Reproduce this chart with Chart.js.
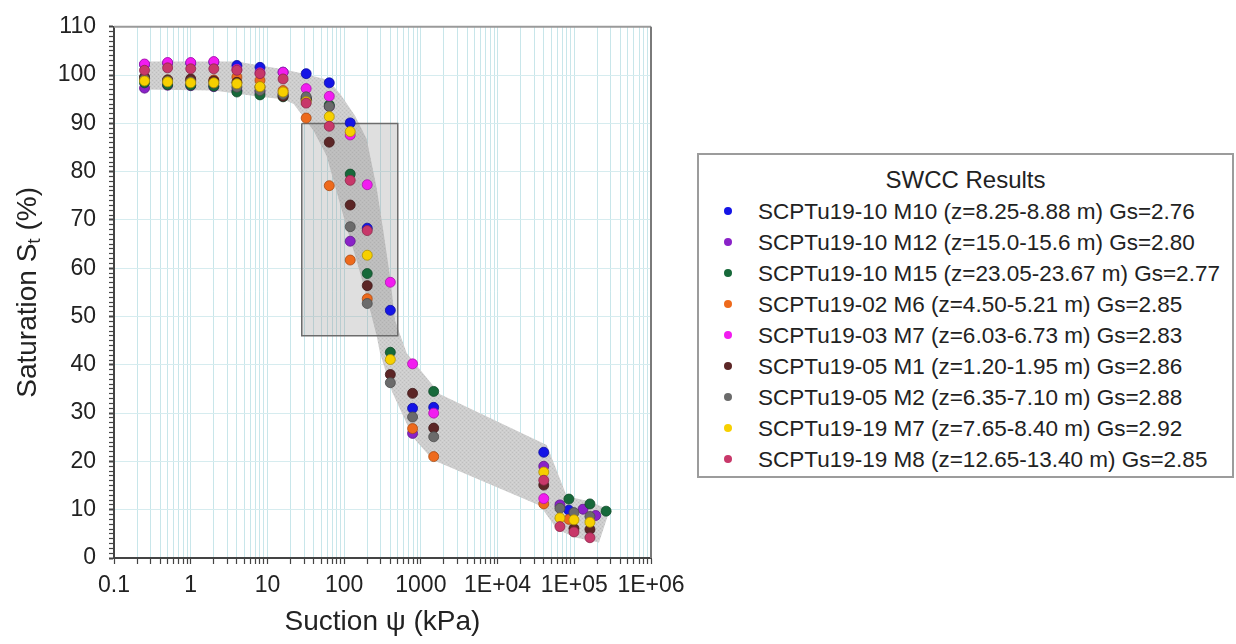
<!DOCTYPE html>
<html>
<head>
<meta charset="utf-8">
<title>SWCC Results</title>
<script src="https://cdn.jsdelivr.net/npm/chart.js@4.4.1/dist/chart.umd.min.js"></script>
<style>
  body { margin: 0; background: #fff; }
  #wrap { position: relative; width: 1236px; height: 644px; }
  #swccChart { position: absolute; left: 0; top: 0; }
  #legend {
    position: absolute; left: 697px; top: 153px; width: 533px; height: 321px;
    border: 2px solid #9c9c9c; background: #fff;
    font-family: "Liberation Sans", Arial, sans-serif; color: #222;
  }
  #legend .title { padding-top: 8px; height: 33px; line-height: 33px; text-align: center; font-size: 24px; }
  #legend .row { height: 31px; line-height: 31px; font-size: 22.5px; white-space: nowrap; }
  #legend .dot { display: inline-block; width: 8px; height: 8px; border-radius: 50%; margin: 0 26px 0 25px; vertical-align: middle; position: relative; top: -2px; }
</style>
</head>
<body>
<div id="wrap">
  <canvas id="swccChart" width="1236" height="644"></canvas>
  <div id="legend"></div>
</div>
<script>
// suction (kPa) and saturation (%) per specimen
const m10Suction = [0.25, 0.5, 1, 2, 4, 8, 16, 32, 64, 120, 200, 400, 780, 1470, 40000, 85000];
const m10Sat = [102.2, 102.5, 102.5, 102.7, 102.0, 101.6, 100.6, 100.3, 98.4, 90.1, 68.3, 51.3, 31.0, 31.2, 21.9, 9.9];

const m12Suction = [0.25, 0.5, 1, 2, 4, 8, 16, 32, 64, 120, 780, 40000, 65000, 130000, 190000];
const m12Sat = [97.3, 97.9, 97.8, 97.6, 96.8, 96.5, 96.0, 95.0, 93.5, 65.6, 25.8, 19.0, 11.0, 10.1, 8.8];

const m15Suction = [0.25, 0.5, 1, 2, 4, 8, 16, 32, 64, 120, 200, 400, 1470, 85000, 160000, 260000];
const m15Sat = [98.4, 98.0, 97.9, 97.7, 96.5, 95.9, 95.5, 95.2, 93.8, 79.5, 58.9, 42.6, 34.5, 12.2, 11.2, 9.7];

const m6Suction = [0.25, 0.5, 1, 2, 4, 8, 16, 32, 64, 120, 200, 780, 1470, 40000, 85000];
const m6Sat = [99.4, 99.0, 99.0, 99.0, 99.6, 98.9, 96.8, 91.1, 77.1, 61.7, 53.7, 26.8, 21.0, 11.2, 8.0];

const m7aSuction = [0.25, 0.5, 1, 2, 4, 8, 16, 32, 64, 120, 200, 400, 780, 1470, 40000];
const m7aSat = [102.3, 102.6, 102.6, 102.8, 101.2, 100.5, 100.6, 97.2, 95.6, 87.6, 77.3, 57.1, 40.2, 30.0, 12.3];

const m1Suction = [0.25, 0.5, 1, 2, 4, 8, 16, 32, 64, 120, 200, 400, 780, 1470, 40000, 99000, 160000];
const m1Sat = [99.6, 99.0, 99.2, 98.8, 98.5, 97.5, 95.6, 95.0, 86.1, 73.1, 56.4, 38.0, 34.1, 26.9, 15.1, 6.1, 5.9];

const m2Suction = [0.25, 0.5, 1, 2, 4, 8, 16, 32, 64, 120, 200, 400, 780, 1470, 65000, 99000, 160000];
const m2Sat = [99.2, 98.8, 98.6, 98.3, 97.5, 96.8, 96.0, 95.5, 93.5, 68.6, 52.7, 36.3, 29.2, 25.1, 10.3, 9.4, 8.6];

const m7bSuction = [0.25, 0.5, 1, 2, 4, 8, 16, 32, 64, 120, 200, 400, 40000, 65000, 99000, 160000];
const m7bSat = [98.8, 98.6, 98.4, 98.4, 98.2, 97.6, 96.5, 94.5, 91.4, 88.3, 62.7, 41.1, 17.8, 8.3, 7.9, 7.4];

const m8Suction = [0.25, 0.5, 1, 2, 4, 8, 16, 32, 64, 120, 200, 40000, 65000, 99000, 160000];
const m8Sat = [101.0, 101.5, 101.3, 101.3, 101.0, 100.3, 99.2, 94.2, 89.4, 78.2, 67.8, 16.1, 6.5, 5.4, 4.2];

const seriesNames = [
    "SCPTu19-10 M10 (z=8.25-8.88 m) Gs=2.76",
    "SCPTu19-10 M12 (z=15.0-15.6 m) Gs=2.80",
    "SCPTu19-10 M15 (z=23.05-23.67 m) Gs=2.77",
    "SCPTu19-02 M6 (z=4.50-5.21 m) Gs=2.85",
    "SCPTu19-03 M7 (z=6.03-6.73 m) Gs=2.83",
    "SCPTu19-05 M1 (z=1.20-1.95 m) Gs=2.86",
    "SCPTu19-05 M2 (z=6.35-7.10 m) Gs=2.88",
    "SCPTu19-19 M7 (z=7.65-8.40 m) Gs=2.92",
    "SCPTu19-19 M8 (z=12.65-13.40 m) Gs=2.85"
];
const seriesColors = ["#1414e6", "#8a22c8", "#17693a", "#ee6a1c", "#f21cf0", "#5c2626", "#6b6b6b", "#f7d000", "#c8386a"];
const seriesSuction = [m10Suction, m12Suction, m15Suction, m6Suction, m7aSuction, m1Suction, m2Suction, m7bSuction, m8Suction];
const seriesSat = [m10Sat, m12Sat, m15Sat, m6Sat, m7aSat, m1Sat, m2Sat, m7bSat, m8Sat];

// envelope around all curves (upper edge left to right, lower edge back)
const bandSuction = [0.24, 4, 8, 16, 32, 62, 90, 140, 197, 266, 325, 397, 461, 655, 1780, 43700, 79800, 150000, 290000,
    210000, 100000, 59000, 36000, 1440, 790, 420, 294, 266, 197, 146, 108, 80, 59, 40, 29, 22, 16, 8, 2, 0.24];
const bandSat = [102.8, 102.8, 102.0, 101.2, 100.2, 99.0, 96.0, 91.5, 86.7, 76.5, 67.6, 58.2, 49.2, 42.4, 33.9, 23.4, 12.8, 11.8, 10.0,
    3.2, 4.3, 6.0, 10.8, 20.3, 25.0, 34.5, 42.4, 45.9, 54.1, 61.5, 68.4, 75.8, 83.3, 88.5, 91.5, 94.0, 95.0, 95.5, 96.8, 97.0];

// transition zone box
const boxSuction = [28, 500, 500, 28, 28];
const boxSat = [90, 90, 46, 46, 90];

const decadeLabels = ["0.1", "1", "10", "100", "1000", "1E+04", "1E+05", "1E+06"];

const FONT = '"Liberation Sans", Arial, sans-serif';
Chart.defaults.font.family = FONT;

function darken(hex, f) {
    const n = parseInt(hex.slice(1), 16);
    const r = Math.round(((n >> 16) & 255) * f);
    const g = Math.round(((n >> 8) & 255) * f);
    const b = Math.round((n & 255) * f);
    return "rgb(" + r + "," + g + "," + b + ")";
}

function isHalfStep(v) {
    const m = v / Math.pow(10, Math.floor(Math.log10(v) + 1e-9));
    return Math.abs(m - 1.5) < 1e-6;
}

function stipple() {
    const c = document.createElement("canvas");
    c.width = 4;
    c.height = 4;
    const g = c.getContext("2d");
    g.fillStyle = "rgb(206,206,206)";
    g.fillRect(0, 0, 4, 4);
    g.fillStyle = "rgb(190,190,190)";
    g.fillRect(0, 0, 1, 1);
    g.fillRect(2, 2, 1, 1);
    g.fillStyle = "rgb(214,214,214)";
    g.fillRect(2, 0, 1, 1);
    g.fillRect(0, 2, 1, 1);
    return g.createPattern(c, "repeat");
}

const datasets = seriesNames.map((name, i) => ({
    label: name,
    data: seriesSuction[i].map((x, k) => ({ x: x, y: seriesSat[i][k] })),
    backgroundColor: seriesColors[i],
    borderColor: darken(seriesColors[i], 0.7),
    borderWidth: 0.8,
    pointRadius: 5,
    order: 10 - i
}));

datasets.push({
    label: "box",
    data: boxSuction.map((x, k) => ({ x: x, y: boxSat[k] })),
    showLine: true,
    fill: "shape",
    tension: 0,
    backgroundColor: "rgba(150,150,150,0.3)",
    borderColor: "#6c6c6c",
    borderWidth: 1.5,
    pointRadius: 0,
    order: 20
});

datasets.push({
    label: "band",
    data: bandSuction.map((x, k) => ({ x: x, y: bandSat[k] })),
    showLine: true,
    fill: "shape",
    tension: 0,
    backgroundColor: stipple(),
    borderColor: "rgba(0,0,0,0)",
    borderWidth: 0,
    pointRadius: 0,
    order: 21
});

// y title with subscript, and the top/right frame
const extras = {
    id: "extras",
    afterDraw(chart) {
        const { ctx, chartArea } = chart;
        ctx.save();
        ctx.strokeStyle = "#9a9a9a";
        ctx.lineWidth = 2;
        ctx.beginPath();
        ctx.moveTo(chartArea.left, chartArea.top);
        ctx.lineTo(chartArea.right, chartArea.top);
        ctx.stroke();
        ctx.strokeStyle = "#7a7a7a";
        ctx.beginPath();
        ctx.moveTo(chartArea.right, chartArea.top);
        ctx.lineTo(chartArea.right, chartArea.bottom);
        ctx.stroke();

        const parts = [["Saturation S", "28px " + FONT, 0], ["t", "19px " + FONT, 7], [" (%)", "28px " + FONT, 0]];
        let total = 0;
        parts.forEach(p => { ctx.font = p[1]; total += ctx.measureText(p[0]).width; });
        ctx.translate(28, (chartArea.top + chartArea.bottom) / 2);
        ctx.rotate(-Math.PI / 2);
        ctx.fillStyle = "#222";
        ctx.textBaseline = "middle";
        ctx.textAlign = "left";
        let x = -total / 2;
        parts.forEach(p => {
            ctx.font = p[1];
            ctx.fillText(p[0], x, p[2]);
            x += ctx.measureText(p[0]).width;
        });
        ctx.restore();
    }
};

new Chart(document.getElementById("swccChart"), {
    type: "scatter",
    data: { datasets },
    options: {
        responsive: false,
        animation: false,
        events: [],
        layout: { padding: { left: 0, top: 19.5, right: 585, bottom: 0 } },
        plugins: {
            legend: { display: false },
            tooltip: { enabled: false }
        },
        scales: {
            x: {
                type: "logarithmic",
                min: 0.1,
                max: 1e6,
                afterFit: s => { s.height = 86; },
                ticks: {
                    autoSkip: false,
                    maxRotation: 0,
                    minRotation: 0,
                    padding: 8,
                    color: "#222",
                    font: { size: 23 },
                    callback: v => {
                        const e = Math.log10(v);
                        const r = Math.round(e);
                        return Math.abs(e - r) < 1e-9 ? decadeLabels[r + 1] : "";
                    }
                },
                grid: {
                    color: c => (c.tick && isHalfStep(c.tick.value)) ? "rgba(0,0,0,0)" : "#c8e6ea",
                    tickColor: c => (c.tick && isHalfStep(c.tick.value)) ? "rgba(0,0,0,0)" : "#444",
                    tickLength: 6,
                    tickWidth: 1.2
                },
                border: { color: "#444", width: 2 },
                title: {
                    display: true,
                    text: "Suction \u03c8 (kPa)",
                    color: "#222",
                    font: { size: 28 },
                    padding: { top: 0, bottom: 5 }
                }
            },
            y: {
                min: 0,
                max: 110,
                afterFit: s => { s.width = 114; },
                ticks: {
                    stepSize: 1,
                    autoSkip: false,
                    padding: 13,
                    color: "#222",
                    font: { size: 23 },
                    callback: v => (v % 10 === 0 ? String(v) : "")
                },
                grid: {
                    color: c => (c.tick && c.tick.value % 10 === 0) ? "#d6ecef" : "rgba(0,0,0,0)",
                    tickColor: "#444",
                    tickLength: 5,
                    tickWidth: c => (c.tick && c.tick.value % 10 === 0) ? 2 : 1.2
                },
                border: { color: "#444", width: 2 }
            }
        }
    },
    plugins: [extras]
});

// legend box
const legend = document.getElementById("legend");
legend.innerHTML = '<div class="title">SWCC Results</div>' + seriesNames.map((name, i) =>
    '<div class="row"><span class="dot" style="background:' + seriesColors[i] + '"></span>' + name + '</div>'
).join("");
</script>
</body>
</html>
